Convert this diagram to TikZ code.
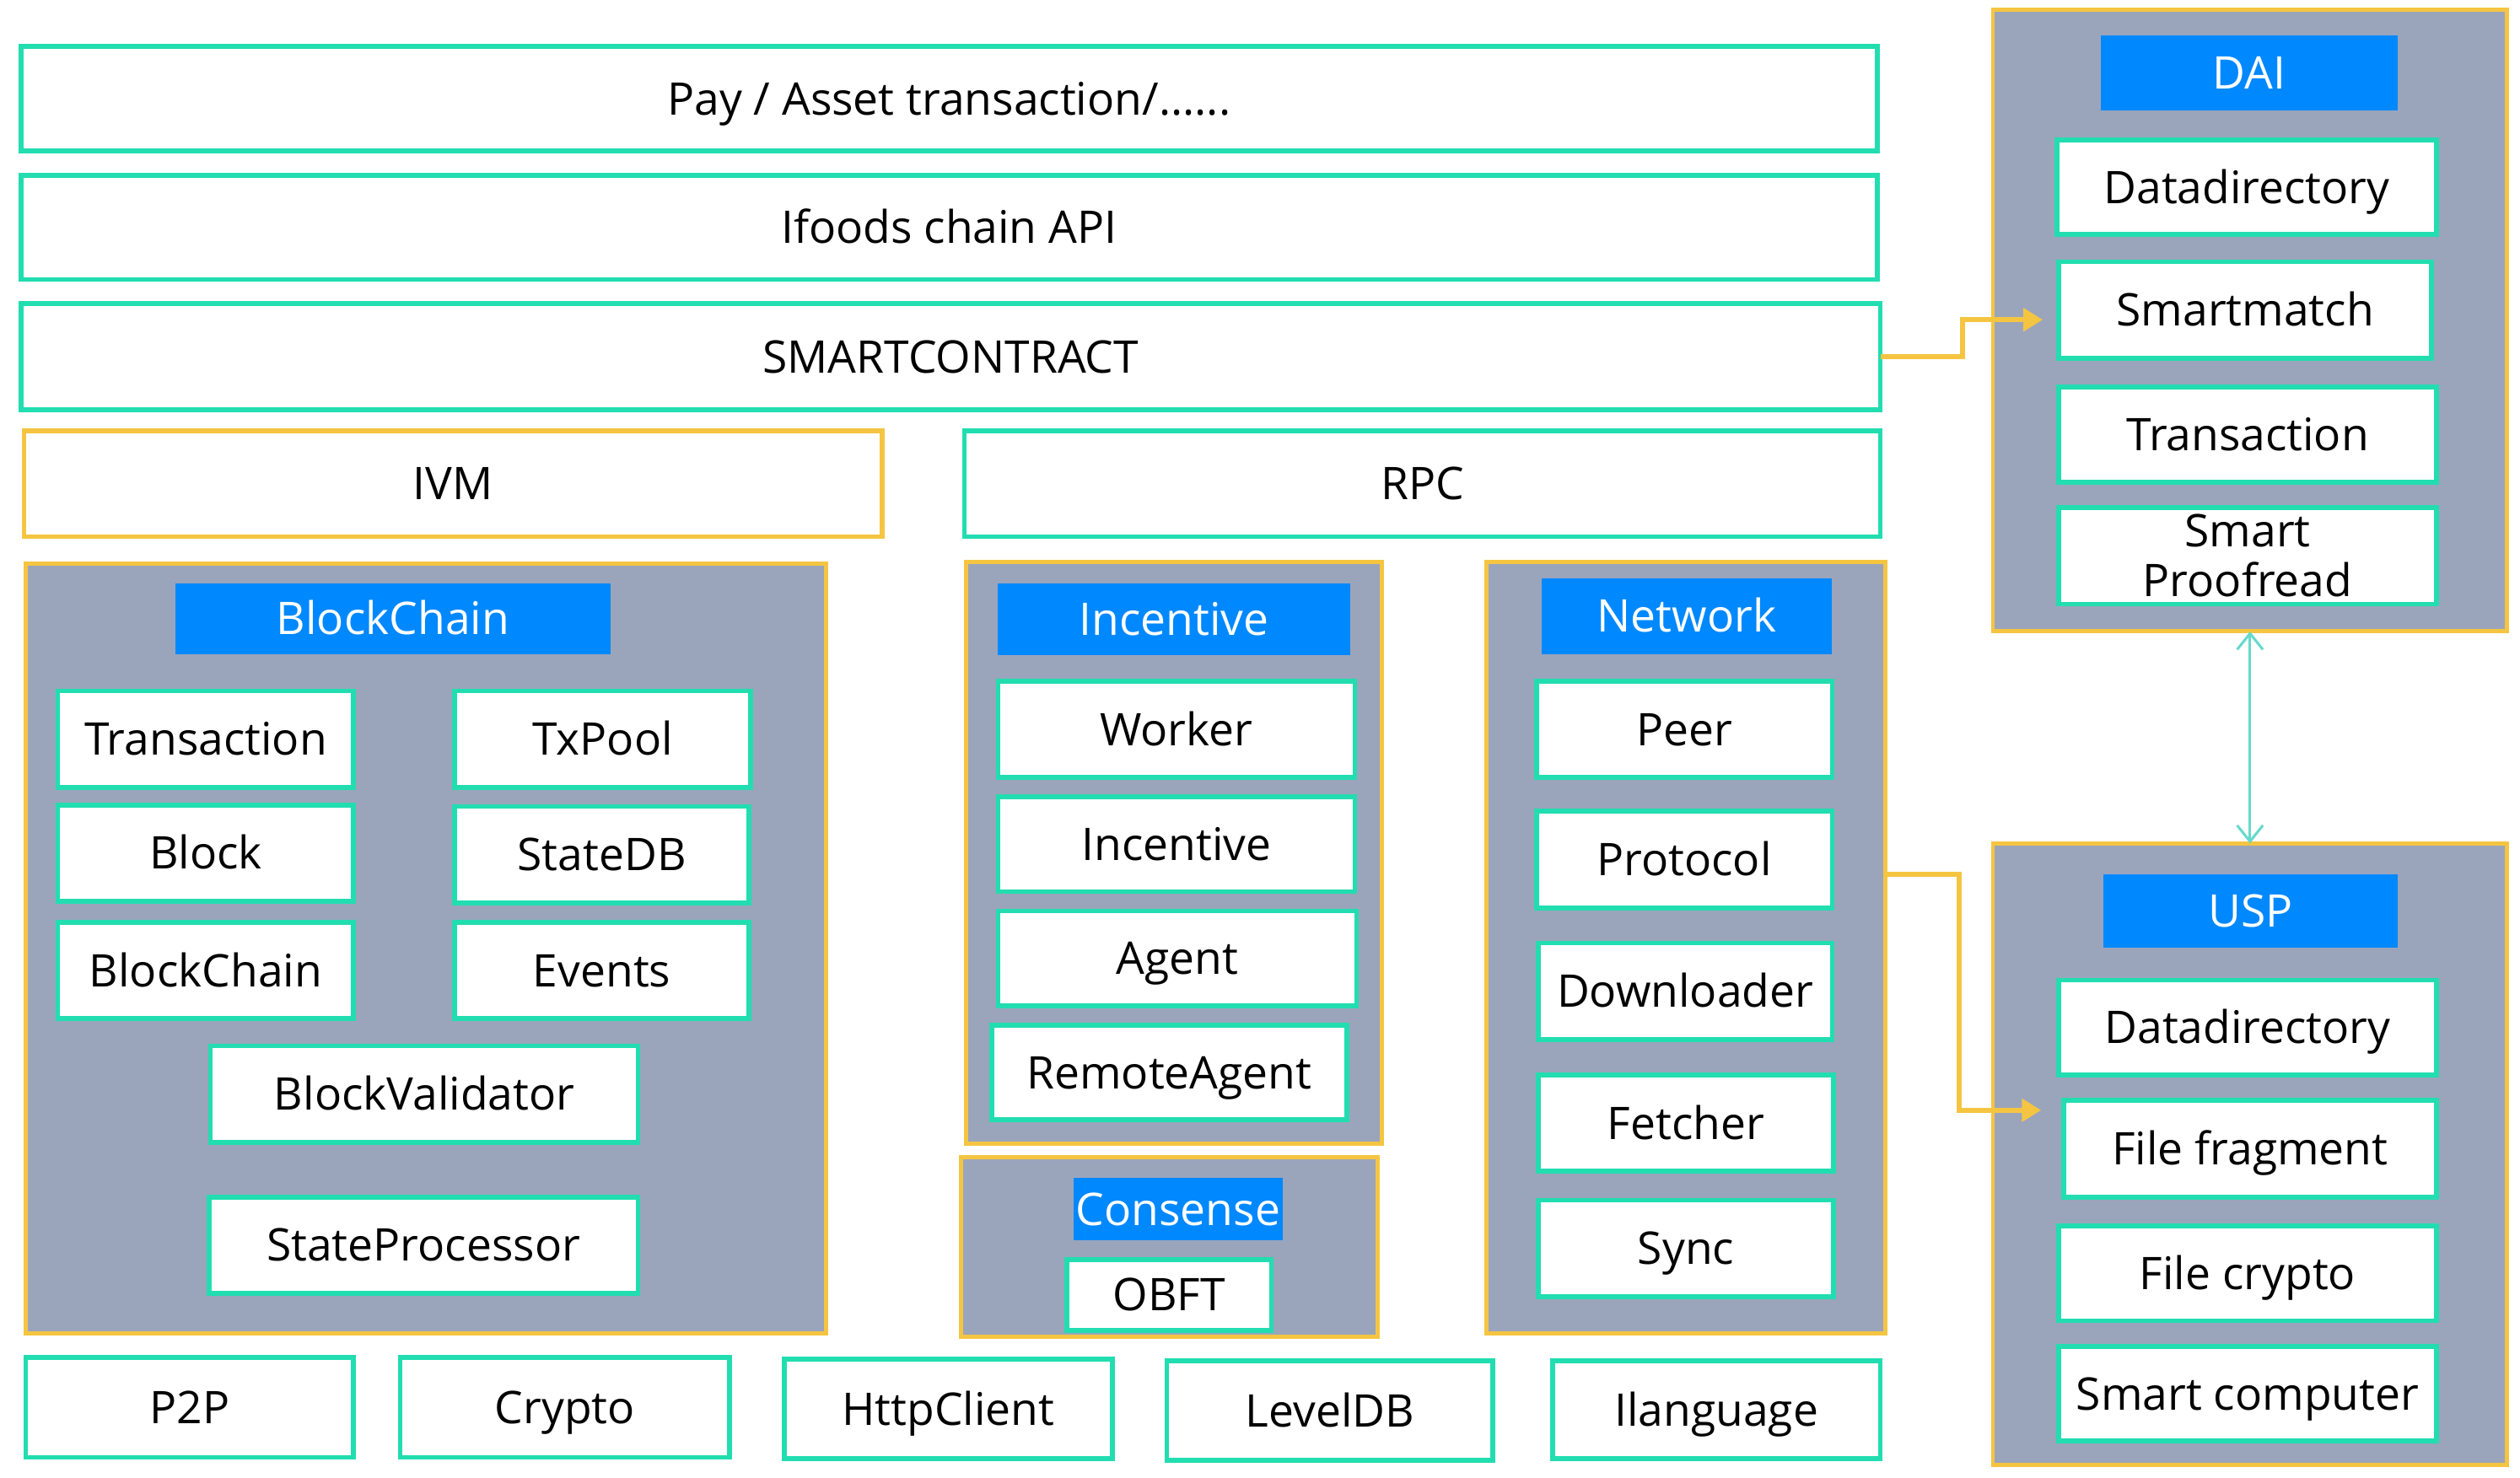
\documentclass[tikz,border=0pt]{standalone}
\usepackage{fontspec}
\setmainfont{Open Sans}
\usetikzlibrary{arrows.meta}
\definecolor{teal1}{HTML}{22DDB0}
\definecolor{yel}{HTML}{F5C542}
\definecolor{greyf}{HTML}{9AA5BB}
\definecolor{blue1}{HTML}{0088FF}
\definecolor{tline}{HTML}{66D9CC}
\newcommand\bx[7]{\node[#6, minimum width={(#4-#2)*0.5pt}, minimum height={(#5-#3)*0.5pt}] (#1) at ({(#2+#4)/2},{(#3+#5)/2}) {#7};}
\tikzset{
  every node/.style={inner sep=0pt, outer sep=0pt, font=\fontsize{14}{15}\selectfont, text=black, text height=11.3pt, text depth=1.3pt},
  tbox/.style={draw=teal1, fill=white, line width=1.5pt},
  ybox/.style={draw=yel, fill=white, line width=1.5pt},
  cont/.style={draw=yel, fill=greyf, line width=1.3pt},
  ttl/.style={fill=blue1, text=white},
  yarrow/.style={draw=yel, line width=1.5pt, -{Triangle[length=6pt,width=7pt]}},
  tarrow/.style={draw=tline, line width=0.8pt, {Straight Barb[length=5pt,width=8pt]}-{Straight Barb[length=5pt,width=8pt]}}
}
\begin{document}
\begin{tikzpicture}[x=0.5pt,y=-0.5pt]
\useasboundingbox (0,0) rectangle (1568,919.4);
% top layers
\bx{pay}{13}{29}{1168}{94}{tbox}{Pay / Asset transaction/......}
\bx{api}{13}{109}{1168}{174}{tbox}{Ifoods chain API}
\bx{sc}{13}{189}{1170}{255}{tbox}{SMARTCONTRACT}
\bx{ivm}{15}{268}{549}{334}{ybox}{IVM}
\bx{rpc}{600}{268}{1170}{334}{tbox}{RPC}
% BlockChain
\bx{bc}{16}{351}{514}{830}{cont}{}
\bx{bct}{109}{363}{380}{407}{ttl}{BlockChain}
\bx{bc1}{36}{430}{220}{490}{tbox}{Transaction}
\bx{bc2}{283}{430}{467}{490}{tbox}{TxPool}
\bx{bc3}{36}{501}{220}{561}{tbox}{Block}
\bx{bc4}{283}{502}{466}{562}{tbox}{StateDB}
\bx{bc5}{36}{574}{220}{634}{tbox}{BlockChain}
\bx{bc6}{283}{574}{466}{634}{tbox}{Events}
\bx{bc7}{131}{651}{397}{711}{tbox}{BlockValidator}
\bx{bc8}{130}{745}{397}{805}{tbox}{StateProcessor}
% Incentive
\bx{inc}{601}{350}{860}{712}{cont}{}
\bx{inct}{621}{363}{840}{408}{ttl}{Incentive}
\bx{inc1}{621}{424}{843}{484}{tbox}{Worker}
\bx{inc2}{621}{496}{843}{555}{tbox}{Incentive}
\bx{inc3}{621}{567}{844}{626}{tbox}{Agent}
\bx{inc4}{617}{638}{838}{697}{tbox}{RemoteAgent}
% Consense
\bx{con}{598}{720}{857}{832}{cont}{}
\bx{cont}{668}{733}{798}{772}{ttl}{Consense}
\bx{con1}{664}{784}{791}{828}{tbox}{OBFT}
% Network
\bx{net}{925}{350}{1173}{830}{cont}{}
\bx{nett}{959}{360}{1140}{407}{ttl}{Network}
\bx{net1}{956}{424}{1140}{484}{tbox}{Peer}
\bx{net2}{956}{505}{1140}{565}{tbox}{Protocol}
\bx{net3}{957}{587}{1140}{647}{tbox}{Downloader}
\bx{net4}{957}{669}{1141}{729}{tbox}{Fetcher}
\bx{net5}{957}{747}{1141}{807}{tbox}{Sync}
% bottom row
\bx{b1}{16}{845}{220}{907}{tbox}{P2P}
\bx{b2}{249}{845}{454}{907}{tbox}{Crypto}
\bx{b3}{488}{846}{692}{908}{tbox}{HttpClient}
\bx{b4}{726}{847}{929}{909}{tbox}{LevelDB}
\bx{b5}{966}{847}{1170}{908}{tbox}{Ilanguage}
% DAI
\bx{dai}{1240}{6}{1560}{393}{cont}{}
\bx{dait}{1307}{22}{1492}{69}{ttl}{DAI}
\bx{dai1}{1280}{87}{1516}{146}{tbox}{Datadirectory}
\bx{dai2}{1281}{163}{1513}{223}{tbox}{Smartmatch}
\bx{dai3}{1281}{241}{1516}{300}{tbox}{Transaction}
\bx{dai4}{1281}{316}{1516}{376}{tbox,align=center,text height=,text depth=,font=\fontsize{14}{15.5}\selectfont}{Smart\\Proofread}
% USP
\bx{usp}{1240}{525}{1560}{912}{cont}{}
\bx{uspt}{1309}{544}{1492}{590}{ttl}{USP}
\bx{usp1}{1281}{610}{1516}{669}{tbox}{Datadirectory}
\bx{usp2}{1284}{685}{1516}{745}{tbox}{File fragment}
\bx{usp3}{1281}{763}{1516}{822}{tbox}{File crypto}
\bx{usp4}{1281}{838}{1516}{897}{tbox}{Smart computer}
% connectors
\draw[yarrow] (sc.east) -- ++(51,0) |- ([xshift=-5pt,yshift=-3pt]dai2.west);
\draw[yarrow] ([yshift=23pt]net.east) -- ++(46,0) |- ([xshift=-7pt,yshift=12pt]usp2.west);
\draw[tarrow] (dai.south) -- (usp.north);
\end{tikzpicture}
\end{document}
